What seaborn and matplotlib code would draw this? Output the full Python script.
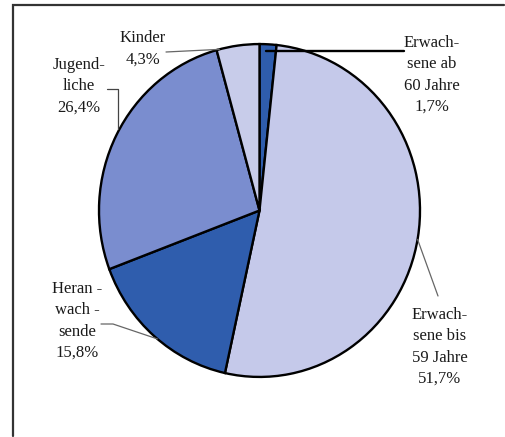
import numpy as np
import matplotlib
matplotlib.use("Agg")
import matplotlib.pyplot as plt
import seaborn as sns

# ---- data ----
categories = ["Erwachsene ab 60 Jahre", "Erwachsene bis 59 Jahre", "Heranwachsende",
              "Jugendliche", "Kinder"]
label_texts = ["Erwach-\nsene ab\n60 Jahre\n1,7%", "Erwach-\nsene bis\n59 Jahre\n51,7%",
               "Heran -\nwach -\nsende\n15,8%", "Jugend-\nliche\n26,4%", "Kinder\n4,3%"]
shares = [1.7, 51.7, 15.8, 26.4, 4.3]
colors = ["#2F5DAD", "#C5C9EA", "#2F5DAD", "#7A8DCF", "#C8CCEA"]

sns.set_theme(style="white")
plt.rcParams['font.family'] = ['Liberation Serif', 'DejaVu Serif']

W, H = 505, 437
S = 1.037  # vertical stretch of the pie in the reference
fig = plt.figure(figsize=(W / 100, H / 100), dpi=100)
ax = fig.add_axes([0, 0, 1, 1])

def py(y):
    """pixel row (from top) -> data y"""
    return (H - y) / S

cx, cy, R = 259.5, py(210.5), 160.5

wedges, _ = ax.pie(shares, colors=colors, startangle=90, counterclock=False,
                   center=(cx, cy), radius=R, frame=False,
                   wedgeprops=dict(edgecolor="black", linewidth=1.7))
ax.set_aspect("auto")
ax.set_xlim(0, W)
ax.set_ylim(0, H / S)
ax.set_axis_off()

# frame: only left and top edges fall inside the picture
ax.plot([13, 13, W - 1], [py(H - 1), py(5), py(5)], color="#333333", lw=1.6,
        solid_joinstyle="miter")

def on_circle(angle_deg, rf=1.0):
    a = np.deg2rad(angle_deg)
    return cx + rf * R * np.cos(a), cy + rf * R * np.sin(a)

tkw = dict(ha="center", va="center", fontsize=12, linespacing=1.45, color="#1a1a1a")

# Erwachsene ab 60
ax.text(432, py(75), label_texts[0], **tkw)
x0, y0 = on_circle(87.5, 0.96)
ax.plot([x0, 404], [y0, y0], color="black", lw=1.7)

# Erwachsene bis 59
ax.text(440, py(347), label_texts[1], **tkw)
x0, y0 = on_circle(-10)
ax.plot([x0, 438], [y0, py(296)], color="#666666", lw=0.9)

# Heranwachsende
ax.text(77, py(321), label_texts[2], **tkw)
x0, y0 = on_circle(-129.5)
ax.plot([101, 113, x0], [py(324), py(324), y0], color="#666666", lw=0.9)

# Jugendliche
ax.text(79, py(86), label_texts[3], **tkw)
x0, y0 = on_circle(150.5)
ax.plot([107, 118, 118], [py(89), py(89), y0], color="#444444", lw=0.9)

# Kinder
ax.text(143, py(49), label_texts[4], **tkw)
x0, y0 = on_circle(104.5)
ax.plot([166, x0], [py(52), y0], color="#666666", lw=0.9)

fig.savefig("out.png", dpi=100, facecolor="white")
